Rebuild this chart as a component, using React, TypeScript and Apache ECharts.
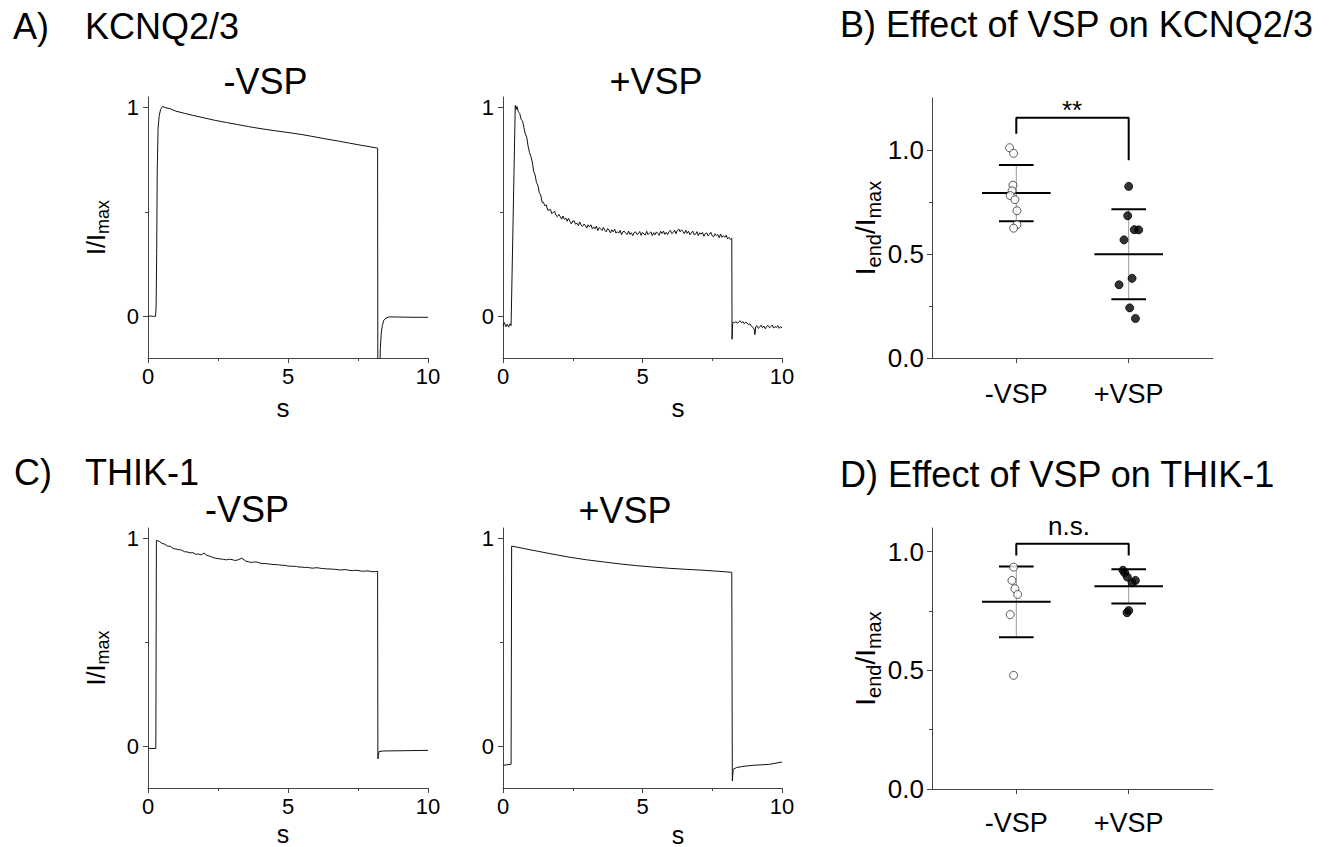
import React, { useEffect, useRef } from "react";
import * as echarts from "echarts";

const FONT = '"Liberation Sans", Arial, Helvetica, sans-serif';

// ---------- Data: normalised current traces (t in s, I/Imax) ----------
const kcnqMinusTrace: [number, number][] = [
  [0, 0], [0.1, 0.001], [0.2, -0.001], [0.27, 0], [0.29, 0.05], [0.31, 0.3], [0.33, 0.7],
  [0.36, 0.9], [0.4, 0.96], [0.45, 0.99], [0.52, 1.005], [0.6, 1.0], [0.8, 0.993],
  [1.0, 0.982], [1.3, 0.972], [1.6, 0.962], [2.0, 0.95], [2.4, 0.938], [2.8, 0.928],
  [3.2, 0.918], [3.6, 0.908], [4.0, 0.899], [4.5, 0.889], [5.0, 0.88], [5.5, 0.87],
  [6.0, 0.858], [6.4, 0.848], [6.8, 0.839], [7.2, 0.829], [7.6, 0.819], [8.0, 0.81],
  [8.2, 0.805], [8.21, -0.5], [8.27, -0.3], [8.3, -0.15], [8.33, -0.08], [8.37, -0.045],
  [8.42, -0.02], [8.5, -0.008], [8.63, -0.003], [9.0, -0.004], [9.5, -0.005], [10, -0.005],
];

const kcnqPlusTrace: [number, number][] = [
  [0, -0.045], [0.05, -0.03], [0.1, -0.05], [0.15, -0.038], [0.2, -0.052], [0.25, -0.036],
  [0.29, -0.045], [0.44, 1.01], [0.47, 0.99],
  [0.5, 1.005], [0.55, 0.979], [0.6, 0.971], [0.65, 0.942], [0.7, 0.936], [0.75, 0.903],
  [0.8, 0.873], [0.85, 0.858], [0.9, 0.814], [0.95, 0.784], [1.0, 0.765], [1.05, 0.739],
  [1.1, 0.693], [1.15, 0.677], [1.2, 0.64], [1.25, 0.628], [1.3, 0.592], [1.35, 0.581],
  [1.4, 0.546], [1.45, 0.545], [1.5, 0.529], [1.55, 0.533], [1.6, 0.509], [1.65, 0.508],
  [1.7, 0.512], [1.75, 0.491], [1.8, 0.498], [1.85, 0.503], [1.9, 0.483], [1.95, 0.477],
  [2.0, 0.488], [2.05, 0.478], [2.1, 0.465], [2.15, 0.48], [2.2, 0.464], [2.25, 0.47],
  [2.3, 0.455], [2.35, 0.469], [2.4, 0.454], [2.45, 0.442], [2.5, 0.456], [2.55, 0.457],
  [2.6, 0.441], [2.65, 0.446], [2.7, 0.434], [2.75, 0.452], [2.8, 0.436], [2.85, 0.43],
  [2.9, 0.441], [2.95, 0.436], [3.0, 0.422], [3.05, 0.438], [3.1, 0.428], [3.15, 0.438],
  [3.2, 0.419], [3.25, 0.428], [3.3, 0.419], [3.35, 0.432], [3.4, 0.41], [3.45, 0.425],
  [3.5, 0.419], [3.55, 0.411], [3.6, 0.426], [3.65, 0.411], [3.7, 0.404], [3.75, 0.42],
  [3.8, 0.413], [3.85, 0.399], [3.9, 0.414], [3.95, 0.404], [4.0, 0.417], [4.05, 0.398],
  [4.1, 0.405], [4.15, 0.398], [4.2, 0.411], [4.25, 0.391], [4.3, 0.405], [4.35, 0.407],
  [4.4, 0.397], [4.45, 0.391], [4.5, 0.408], [4.55, 0.392], [4.6, 0.4], [4.65, 0.386],
  [4.7, 0.401], [4.75, 0.404], [4.8, 0.392], [4.85, 0.395], [4.9, 0.406], [4.95, 0.387],
  [5.0, 0.402], [5.05, 0.393], [5.1, 0.389], [5.15, 0.407], [5.2, 0.391], [5.25, 0.398],
  [5.3, 0.404], [5.35, 0.386], [5.4, 0.4], [5.45, 0.39], [5.5, 0.404], [5.55, 0.397],
  [5.6, 0.388], [5.65, 0.407], [5.7, 0.396], [5.75, 0.408], [5.8, 0.392], [5.85, 0.402],
  [5.9, 0.391], [5.95, 0.405], [6.0, 0.412], [6.05, 0.396], [6.1, 0.401], [6.15, 0.412],
  [6.2, 0.395], [6.25, 0.411], [6.3, 0.418], [6.35, 0.404], [6.4, 0.414], [6.45, 0.406],
  [6.5, 0.395], [6.55, 0.412], [6.6, 0.397], [6.65, 0.407], [6.7, 0.39], [6.75, 0.399],
  [6.8, 0.408], [6.85, 0.39], [6.9, 0.393], [6.95, 0.405], [7.0, 0.386], [7.05, 0.4],
  [7.1, 0.393], [7.15, 0.402], [7.2, 0.383], [7.25, 0.396], [7.3, 0.399], [7.35, 0.385],
  [7.4, 0.392], [7.45, 0.402], [7.5, 0.385], [7.55, 0.38], [7.6, 0.395], [7.65, 0.386],
  [7.7, 0.391], [7.75, 0.376], [7.8, 0.394], [7.85, 0.378], [7.9, 0.386], [7.95, 0.378],
  [8.0, 0.388], [8.05, 0.371], [8.1, 0.378], [8.15, 0.368], [8.2, 0.373],
  [8.21, -0.11], [8.23, -0.035], [8.25, -0.028], [8.3, -0.032], [8.35, -0.025], [8.4, -0.034],
  [8.45, -0.027], [8.5, -0.022], [8.55, -0.031], [8.6, -0.026], [8.65, -0.036], [8.7, -0.028],
  [8.75, -0.033], [8.8, -0.041], [8.85, -0.036], [8.9, -0.047], [8.95, -0.052], [9.0, -0.062],
  [9.03, -0.088], [9.06, -0.05], [9.1, -0.045], [9.15, -0.058], [9.2, -0.052], [9.25, -0.043],
  [9.3, -0.055], [9.35, -0.047], [9.4, -0.06], [9.45, -0.049], [9.5, -0.044], [9.55, -0.055],
  [9.6, -0.05], [9.65, -0.042], [9.7, -0.057], [9.75, -0.049], [9.8, -0.054], [9.85, -0.045],
  [9.9, -0.058], [9.95, -0.05], [10, -0.056],
];

const thikMinusTrace: [number, number][] = [
  [0, -0.01], [0.28, -0.01], [0.3, 0.99], [0.4, 0.986], [0.5, 0.976], [0.6, 0.972],
  [0.7, 0.963], [0.8, 0.962], [0.9, 0.951], [1.0, 0.949], [1.1, 0.946], [1.2, 0.944],
  [1.3, 0.936], [1.4, 0.935], [1.5, 0.93], [1.6, 0.932], [1.7, 0.924], [1.8, 0.925],
  [1.9, 0.921], [2.0, 0.93], [2.1, 0.918], [2.2, 0.915], [2.3, 0.909], [2.4, 0.905],
  [2.5, 0.903], [2.6, 0.901], [2.7, 0.899], [2.8, 0.897], [2.9, 0.9], [3.0, 0.898],
  [3.1, 0.894], [3.2, 0.896], [3.35, 0.905], [3.5, 0.89], [3.6, 0.887], [3.7, 0.884],
  [3.8, 0.887], [3.9, 0.886], [4.0, 0.881], [4.1, 0.879], [4.2, 0.879], [4.3, 0.877],
  [4.4, 0.876], [4.5, 0.874], [4.6, 0.874], [4.7, 0.872], [4.8, 0.871], [4.9, 0.87],
  [5.0, 0.867], [5.1, 0.866], [5.2, 0.866], [5.3, 0.865], [5.4, 0.862], [5.5, 0.862],
  [5.6, 0.86], [5.7, 0.861], [5.8, 0.858], [5.9, 0.857], [6.0, 0.859], [6.1, 0.858],
  [6.2, 0.855], [6.3, 0.855], [6.4, 0.853], [6.5, 0.853], [6.6, 0.852], [6.7, 0.851],
  [6.8, 0.849], [6.9, 0.848], [7.0, 0.85], [7.1, 0.849], [7.2, 0.846], [7.3, 0.845],
  [7.4, 0.847], [7.5, 0.846], [7.6, 0.843], [7.7, 0.842], [7.8, 0.844], [7.9, 0.843],
  [8.0, 0.84], [8.1, 0.84], [8.2, 0.842], [8.21, -0.06], [8.25, -0.025], [8.4, -0.022],
  [9.0, -0.021], [9.5, -0.02], [10, -0.019],
];

const thikPlusTrace: [number, number][] = [
  [0, -0.091], [0.29, -0.086], [0.31, 0.963], [0.5, 0.958], [0.8, 0.95], [1.22, 0.939],
  [1.6, 0.929], [2.0, 0.919], [2.41, 0.909], [3.0, 0.897], [3.6, 0.887], [4.2, 0.877],
  [4.79, 0.869], [5.4, 0.862], [5.98, 0.856], [6.6, 0.851], [7.17, 0.847], [7.7, 0.842],
  [8.2, 0.837], [8.22, -0.166], [8.25, -0.11], [8.37, -0.102], [8.6, -0.096],
  [8.96, -0.091], [9.56, -0.086], [10, -0.075],
];

// ---------- Data: Iend/Imax per cell ----------
const groups = ["-VSP", "+VSP"];
const kcnqMinusVals = [1.011, 0.984, 0.831, 0.804, 0.781, 0.761, 0.708, 0.641, 0.624];
const kcnqMinusJitter = [-0.06, -0.024, -0.03, -0.038, -0.054, -0.012, 0.006, 0.006, -0.024];
const kcnqPlusVals = [0.825, 0.684, 0.617, 0.616, 0.568, 0.383, 0.352, 0.241, 0.19];
const kcnqPlusJitter = [0, -0.009, 0.05, 0.089, -0.042, 0.03, -0.086, 0.009, 0.06];
const kcnqMean = [0.793, 0.499];
const kcnqSd = [0.135, 0.216];

const thikMinusVals = [0.935, 0.879, 0.844, 0.82, 0.735, 0.479];
const thikMinusJitter = [-0.024, -0.039, -0.012, 0.012, -0.054, -0.024];
const thikPlusVals = [0.922, 0.911, 0.893, 0.869, 0.879, 0.743, 0.752];
const thikPlusJitter = [-0.051, -0.036, -0.012, 0.03, 0.06, -0.015, 0];
const thikMean = [0.789, 0.854];
const thikSd = [0.149, 0.072];

const kcnqBracket: [number, number][] = [[1, 1.078], [1, 1.155], [2, 1.155], [2, 0.951]];
const thikBracket: [number, number][] = [[1, 0.984], [1, 1.034], [2, 1.034], [2, 0.984]];

// ---------- Tick values ----------
const traceXMax = 10;
const traceYLabels = [0, 1];
const traceYMinor = [0.5];
const dotYLabels = [0, 0.5, 1.0];
const dotYMinor = [0.25, 0.75];
const groupPos = [1, 2];

const AXIS_COLOR = "#444";

function buildOption() {
  const traceGrids = [
    { left: 148, top: 97, width: 280, height: 261 },
    { left: 503, top: 97, width: 279, height: 261 },
    { left: 148, top: 528, width: 280, height: 260 },
    { left: 503, top: 528, width: 279, height: 260 },
  ];
  const dotGrids = [
    { left: 932, top: 98, width: 281, height: 260 },
    { left: 932, top: 528, width: 281, height: 261 },
  ];
  const grid = [...traceGrids, ...dotGrids];

  const axisLine = { onZero: false, lineStyle: { color: AXIS_COLOR, width: 1 } };
  const xAxis: any[] = [];
  const yAxis: any[] = [];
  const series: any[] = [];

  const yName = (rich: string, big: number, small: number, drop: number) => ({
    name: rich,
    nameLocation: "middle",
    nameRotate: 90,
    nameTextStyle: {
      color: "#000",
      fontFamily: FONT,
      rich: {
        a: { fontSize: big, fontFamily: FONT, color: "#000", lineHeight: big + drop },
        b: { fontSize: small, fontFamily: FONT, color: "#000", verticalAlign: "bottom", lineHeight: small - 4 },
      },
    },
  });

  const traces = [kcnqMinusTrace, kcnqPlusTrace, thikMinusTrace, thikPlusTrace];
  traces.forEach((tr, i) => {
    xAxis.push({
      type: "value",
      gridIndex: i,
      min: 0,
      max: traceXMax,
      interval: 5,
      axisLine,
      axisTick: { show: true, length: 5, lineStyle: { color: AXIS_COLOR } },
      minorTick: { show: true, splitNumber: 2, length: 3, lineStyle: { color: AXIS_COLOR } },
      splitLine: { show: false },
      axisLabel: { fontSize: 22, fontFamily: FONT, color: "#000", margin: 7 },
    });
    const hasName = i === 0 || i === 2;
    yAxis.push({
      type: "value",
      gridIndex: i,
      position: "left",
      min: -0.2,
      max: 1.05,
      axisLine,
      axisTick: { show: true, length: 5, customValues: traceYLabels, lineStyle: { color: AXIS_COLOR } },
      axisLabel: { fontSize: 22, fontFamily: FONT, color: "#000", margin: 9, customValues: traceYLabels, formatter: (v: number) => String(v) },
      splitLine: { show: false },
      ...(hasName ? { ...yName("{a|I/I}{b|max}", 25, 18, 8), nameGap: 36 } : {}),
    });
    yAxis.push({
      type: "value",
      gridIndex: i,
      position: "left",
      offset: 0,
      min: -0.2,
      max: 1.05,
      axisLine: { show: false, onZero: false },
      axisTick: { show: true, length: 3, customValues: traceYMinor, lineStyle: { color: AXIS_COLOR } },
      axisLabel: { show: false },
      splitLine: { show: false },
    });
    series.push({
      type: "line",
      xAxisIndex: i,
      yAxisIndex: i * 2,
      data: tr,
      symbol: "none",
      showSymbol: false,
      clip: true,
      lineStyle: { color: "#111", width: 1 },
    });
  });

  const dotSets = [
    { minus: kcnqMinusVals, mj: kcnqMinusJitter, plus: kcnqPlusVals, pj: kcnqPlusJitter, mean: kcnqMean, sd: kcnqSd, bracket: kcnqBracket, yMax: 1.25 },
    { minus: thikMinusVals, mj: thikMinusJitter, plus: thikPlusVals, pj: thikPlusJitter, mean: thikMean, sd: thikSd, bracket: thikBracket, yMax: 1.1 },
  ];
  dotSets.forEach((d, k) => {
    const gi = 4 + k;
    const xi = xAxis.length;
    xAxis.push({
      type: "value",
      gridIndex: gi,
      min: 0.25,
      max: 2.75,
      axisLine,
      axisTick: { show: true, length: 5, customValues: groupPos, lineStyle: { color: AXIS_COLOR } },
      axisLabel: {
        fontSize: 27,
        fontFamily: FONT,
        color: "#000",
        margin: k === 0 ? 22 : 20,
        customValues: groupPos,
        formatter: (v: number) => groups[Math.round(v) - 1],
      },
      splitLine: { show: false },
    });
    const yi = yAxis.length;
    yAxis.push({
      type: "value",
      gridIndex: gi,
      position: "left",
      min: 0,
      max: d.yMax,
      axisLine,
      axisTick: { show: true, length: 5, customValues: dotYLabels, lineStyle: { color: AXIS_COLOR } },
      axisLabel: { fontSize: 26, fontFamily: FONT, color: "#000", margin: 8, customValues: dotYLabels, formatter: (v: number) => v.toFixed(1) },
      splitLine: { show: false },
      ...yName("{a|I}{b|end}{a|/I}{b|max}", 28, 20, 8),
      nameGap: 44,
    });
    yAxis.push({
      type: "value",
      gridIndex: gi,
      position: "left",
      offset: 0,
      min: 0,
      max: d.yMax,
      axisLine: { show: false, onZero: false },
      axisTick: { show: true, length: 3, customValues: dotYMinor, lineStyle: { color: AXIS_COLOR } },
      axisLabel: { show: false },
      splitLine: { show: false },
    });

    // error bars: mean +/- SD
    series.push({
      type: "custom",
      xAxisIndex: xi,
      yAxisIndex: yi,
      z: 2,
      encode: { x: 0, y: 1 },
      data: d.mean.map((m, i) => [groupPos[i], m, d.sd[i]]),
      renderItem: (params: any, api: any) => {
        const x = api.value(0);
        const m = api.value(1);
        const s = api.value(2);
        const top = api.coord([x, m + s]);
        const bot = api.coord([x, m - s]);
        const mL = api.coord([x - 0.305, m]);
        const mR = api.coord([x + 0.305, m]);
        const tL = api.coord([x - 0.154, m + s]);
        const tR = api.coord([x + 0.154, m + s]);
        const bL = api.coord([x - 0.154, m - s]);
        const bR = api.coord([x + 0.154, m - s]);
        const blk = { stroke: "#000", lineWidth: 2 };
        return {
          type: "group",
          children: [
            { type: "line", shape: { x1: top[0], y1: top[1], x2: bot[0], y2: bot[1] }, style: { stroke: "#999", lineWidth: 1 } },
            { type: "line", shape: { x1: mL[0], y1: mL[1], x2: mR[0], y2: mR[1] }, style: blk },
            { type: "line", shape: { x1: tL[0], y1: tL[1], x2: tR[0], y2: tR[1] }, style: blk },
            { type: "line", shape: { x1: bL[0], y1: bL[1], x2: bR[0], y2: bR[1] }, style: blk },
          ],
        };
      },
    });
    series.push({
      type: "scatter",
      xAxisIndex: xi,
      yAxisIndex: yi,
      z: 3,
      symbol: "circle",
      symbolSize: 8,
      data: d.minus.map((v, i) => [groupPos[0] + d.mj[i], v]),
      itemStyle: { color: "#fff", borderColor: "#333", borderWidth: 1 },
    });
    series.push({
      type: "scatter",
      xAxisIndex: xi,
      yAxisIndex: yi,
      z: 3,
      symbol: "circle",
      symbolSize: 8,
      data: d.plus.map((v, i) => [groupPos[1] + d.pj[i], v]),
      itemStyle: { color: "#000", borderColor: "#000", borderWidth: 1 },
    });
    series.push({
      type: "line",
      xAxisIndex: xi,
      yAxisIndex: yi,
      z: 2,
      data: d.bracket,
      symbol: "none",
      clip: false,
      lineStyle: { color: "#000", width: 2 },
    });
  });

  const txt = (text: string, x: number, y: number, fontSize: number, align = "left") => ({
    type: "text",
    x,
    y,
    style: { text, fontSize, fontFamily: FONT, fill: "#000", align, verticalAlign: "middle" },
  });

  const graphic = [
    txt("A)", 13, 26.4, 36),
    txt("KCNQ2/3", 85, 26.4, 36),
    txt("B) Effect of VSP on KCNQ2/3", 840, 24.4, 36),
    txt("C)", 14, 472.4, 36),
    txt("THIK-1", 85, 472.4, 36),
    txt("D) Effect of VSP on THIK-1", 840, 474.4, 36),
    txt("-VSP", 265.5, 81.4, 36, "center"),
    txt("+VSP", 656, 81.4, 36, "center"),
    txt("-VSP", 247, 509.4, 36, "center"),
    txt("+VSP", 625, 510.4, 36, "center"),
    txt("s", 283, 408, 26, "center"),
    txt("s", 678, 408, 26, "center"),
    txt("s", 283, 834, 25, "center"),
    txt("s", 678, 834.5, 25, "center"),
    txt("**", 1072, 110, 26, "center"),
    txt("n.s.", 1069, 526, 26, "center"),
  ];

  return {
    animation: false,
    backgroundColor: "#fff",
    grid,
    xAxis,
    yAxis,
    series,
    graphic,
  };
}

export default function App() {
  const ref = useRef<HTMLDivElement>(null);
  useEffect(() => {
    if (!ref.current) return;
    const chart = echarts.init(ref.current, null, { renderer: "svg" });
    chart.setOption(buildOption() as any);
    return () => chart.dispose();
  }, []);
  return (
    <div
      ref={ref}
      style={{ position: "absolute", left: 0, top: 0, width: 1339, height: 847, background: "#fff" }}
    />
  );
}
